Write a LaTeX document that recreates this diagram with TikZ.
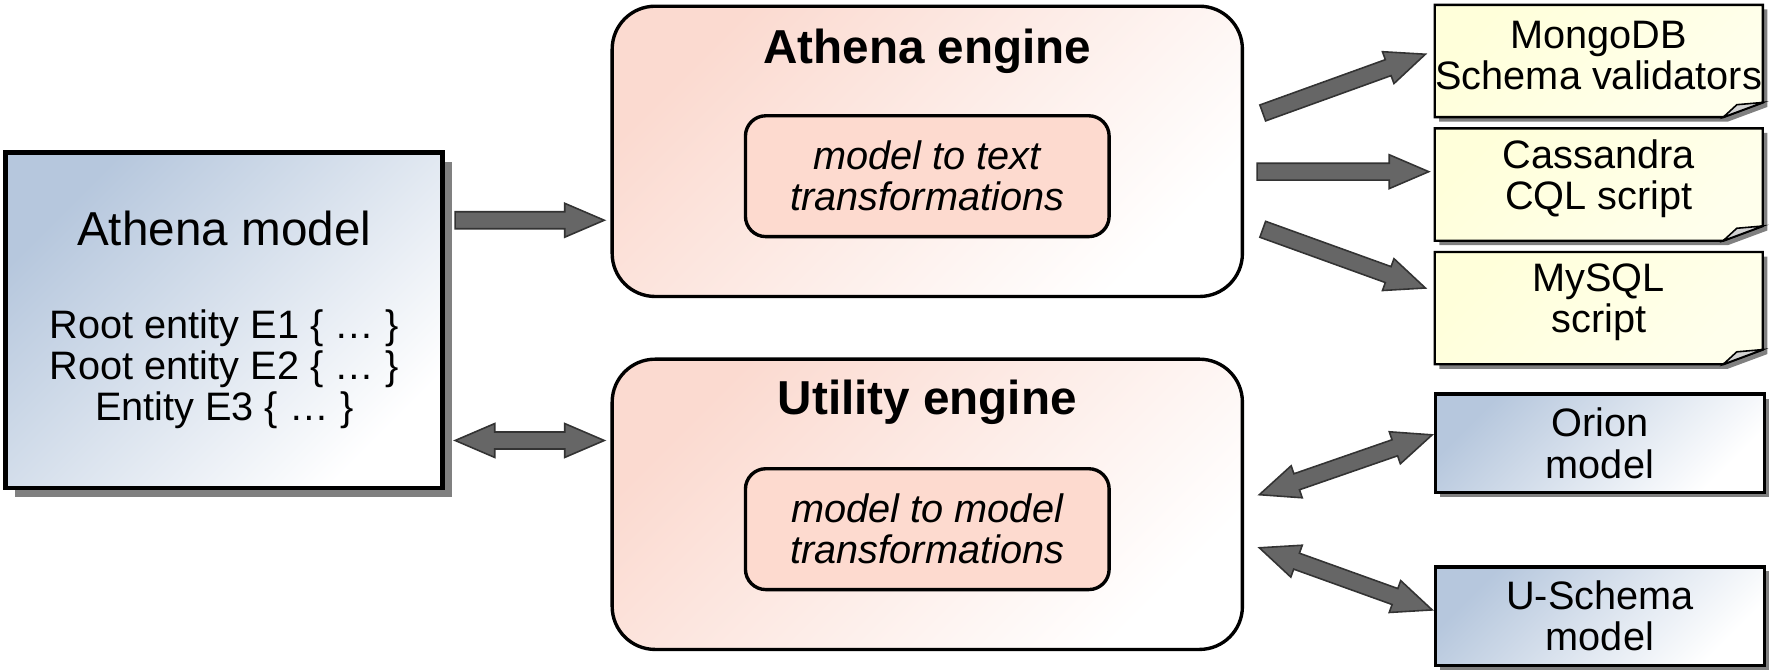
\documentclass[tikz,border=0pt]{standalone}
\usepackage{fontspec}
\setmainfont{Liberation Sans}
\usetikzlibrary{positioning, calc, shadows, backgrounds}

\definecolor{modelblue}{RGB}{182,199,221}
\definecolor{enginepink}{RGB}{251,218,208}
\definecolor{innerpink}{RGB}{253,218,207}
\definecolor{noteyellow}{RGB}{255,255,218}
\definecolor{arrowgray}{RGB}{102,102,102}
\definecolor{arrowline}{RGB}{51,51,51}
\definecolor{shadowgray}{RGB}{128,128,128}

\tikzset{
  boxshadow/.style={drop shadow={shadow xshift=#1, shadow yshift=-#1, fill=shadowgray, opacity=1}},
  modelbox/.style={draw, line width=0.85pt, top color=modelblue, bottom color=white, shading angle=45, align=center, inner sep=0pt, font=\fontsize{10}{10.35}\selectfont},
  enginebox/.style={draw, line width=0.85pt, rounded corners=3.8mm, top color=enginepink, bottom color=white, shading angle=45, minimum width=55.8mm, minimum height=25.7mm},
  innerbox/.style={draw, line width=0.85pt, rounded corners=1.8mm, fill=innerpink, minimum width=32.2mm, minimum height=10.7mm, align=center, font=\fontsize{10}{10.35}\selectfont\itshape},
  enginetitle/.style={font=\fontsize{12}{14}\selectfont\bfseries},
  notetext/.style={align=center, inner sep=0pt, minimum width=28.9mm, minimum height=9.8mm, font=\fontsize{10}{10.35}\selectfont},
  notepaper/.style={draw, line width=0.6pt, top color=noteyellow, bottom color=noteyellow!50, shading angle=45, boxshadow=0.4mm},
  blockarr/.style={fill=arrowgray, draw=arrowline, line width=0.4pt, line join=miter}
}

% one-way block arrow from #1 to #2
\newcommand{\blockarrow}[2]{%
  \coordinate (hb) at ($(#2)!3.5mm!(#1)$);
  \draw[blockarr] ($(#1)!0.75mm!90:(#2)$) -- ($(hb)!0.75mm!-90:(#1)$) -- ($(hb)!1.5mm!-90:(#1)$) -- (#2)
    -- ($(hb)!1.5mm!90:(#1)$) -- ($(hb)!0.75mm!90:(#1)$) -- ($(#1)!0.75mm!-90:(#2)$) -- cycle;}
% two-way block arrow between #1 and #2
\newcommand{\twowayarrow}[2]{%
  \coordinate (ha) at ($(#1)!3.5mm!(#2)$);
  \coordinate (hb) at ($(#2)!3.5mm!(#1)$);
  \draw[blockarr] (#1) -- ($(ha)!1.5mm!90:(#2)$) -- ($(ha)!0.75mm!90:(#2)$) -- ($(hb)!0.75mm!-90:(#1)$) -- ($(hb)!1.5mm!-90:(#1)$) -- (#2)
    -- ($(hb)!1.5mm!90:(#1)$) -- ($(hb)!0.75mm!90:(#1)$) -- ($(ha)!0.75mm!-90:(#2)$) -- ($(ha)!1.5mm!-90:(#2)$) -- cycle;}

\begin{document}
\begin{tikzpicture}[x=0.1mm, y=-0.1mm]
\useasboundingbox (0,0) rectangle (1568,594);

% source model
\node[modelbox, line width=1.2pt, minimum width=38.7mm, minimum height=29.7mm, boxshadow=0.8mm] (amodel) at (198.5,283.5)
  {{\fontsize{12}{14}\selectfont Athena model}\\[4.6mm] Root entity E1 \{ … \}\\ Root entity E2 \{ … \}\\ Entity E3 \{ … \}};

% engines
\node[enginebox] (aengine) at (821,134) {};
\node[enginetitle] (aetitle) at (821,45) {Athena engine};
\node[innerbox] (mtotext) at (821,156) {model to text\\transformations};
\node[enginebox] (uengine) at (821,446.5) {};
\node[enginetitle] (uetitle) at (821,356) {Utility engine};
\node[innerbox] (mtomodel) at (821,468.5) {model to model\\transformations};

% generated artefacts (text sits a little above the middle of the paper)
\node[notetext] (mongo) at (1415.5,49) {MongoDB\\Schema validators};
\node[notetext, below=1mm of mongo] (cassandra) {Cassandra\\CQL script};
\node[notetext, below=1mm of cassandra] (mysql) {MySQL\\script};
\begin{scope}[on background layer]
\foreach \n in {mongo, cassandra, mysql} {
  \draw[notepaper] ($(\n.north west)+(0,5)$) -- ($(\n.north east)+(0,5)$) -- ($(\n.south east)+(0,-8)$)
    -- ($(\n.south east)+(-35,5)$) -- ($(\n.south west)+(0,5)$) -- cycle;
  \draw[fill=gray!35, line width=0.4pt] ($(\n.south east)+(-35,5)$) -- ($(\n.south east)+(-23,-6)$) -- ($(\n.south east)+(0,-8)$) -- cycle;
}
\end{scope}

% other models
\node[modelbox, minimum width=29.1mm, minimum height=8.7mm, boxshadow=0.4mm] (orion) at (1416.5,392.5) {Orion\\model};
\node[modelbox, minimum width=29.1mm, minimum height=8.7mm, boxshadow=0.4mm, below=6.3mm of orion] (uschema) {U-Schema\\model};

% arrows
\coordinate (toengs) at (403,195); \coordinate (tonge) at (535,195);
\coordinate (utils) at (403,390); \coordinate (utile) at (535,390);
\coordinate (mongos) at (1118,100); \coordinate (mongoe) at (1262,48);
\coordinate (cassas) at (1113,152); \coordinate (cassae) at (1265,152);
\coordinate (mysqls) at (1118,203); \coordinate (mysqle) at (1262,255);
\coordinate (orions) at (1115,438); \coordinate (orione) at (1268,385);
\coordinate (uschs) at (1115,485); \coordinate (usche) at (1268,540);
\blockarrow{toengs}{tonge}
\twowayarrow{utils}{utile}
\blockarrow{mongos}{mongoe}
\blockarrow{cassas}{cassae}
\blockarrow{mysqls}{mysqle}
\twowayarrow{orions}{orione}
\twowayarrow{uschs}{usche}

\end{tikzpicture}
\end{document}
